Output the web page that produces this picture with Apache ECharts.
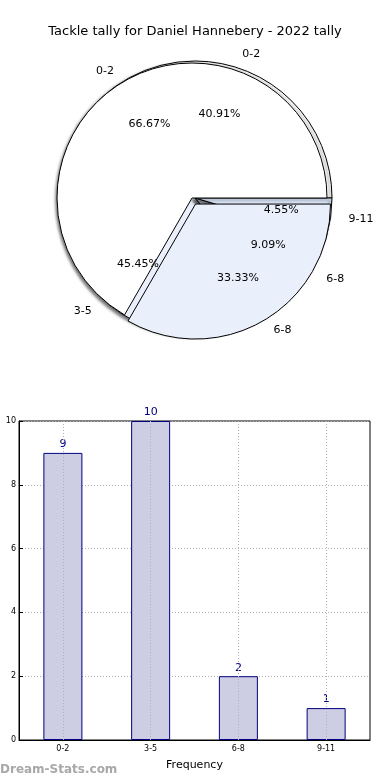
<!DOCTYPE html>
<html><head><meta charset="utf-8">
<script src="https://cdn.jsdelivr.net/npm/echarts@6/dist/echarts.min.js"></script>
<style>html,body{margin:0;padding:0;background:#fff}#c{width:390px;height:780px}</style>
</head><body><div id="c"></div>
<script>
const titleText = 'Tackle tally for Daniel Hannebery - 2022 tally';
const categories = ['0-2', '3-5', '6-8', '9-11'];
const counts = [9, 10, 2, 1];
const pieBNames = ['0-2', '6-8'];
const pieBValues = [66.67, 33.33];
const yTicks = [0, 2, 4, 6, 8, 10];

const FONT = 'DejaVu Sans';
const pieAColors = ['#ffffff', '#eaf0fb', '#eaf0fb', '#dbe7fa'];
const pieBColors = ['#ffffff', '#eaf0fb'];
const total = counts.reduce((a, b) => a + b, 0);
const pctA = counts.map(v => (v / total * 100).toFixed(2) + '%');

const pieAData = categories.map((c, i) => ({ name: c, value: counts[i], itemStyle: { color: pieAColors[i] } }));
const pieBData = pieBNames.map((c, i) => ({ name: c, value: pieBValues[i], selected: i === 1, itemStyle: { color: pieBColors[i] } }));

const centerA = [195, 198];
const centerB = [192, 198];

const chart = echarts.init(document.getElementById('c'), null, { renderer: 'canvas' });
chart.setOption({
  animation: false,
  backgroundColor: '#fff',
  title: {
    text: titleText, left: 'center', top: 20,
    textStyle: { fontFamily: FONT, fontSize: 13, fontWeight: 'normal', color: '#000' }
  },
  graphic: [{
    type: 'text', left: 0, top: 764,
    style: { text: 'Dream-Stats.com', fontFamily: FONT, fontSize: 12, fontWeight: 'bold', fill: '#a8a8a8' }
  }],
  grid: { left: 19, right: 20, top: 421, bottom: 40, show: true, borderColor: '#000', borderWidth: 1, backgroundColor: 'transparent' },
  xAxis: {
    type: 'category', data: categories,
    name: 'Frequency', nameLocation: 'middle', nameGap: 20,
    nameTextStyle: { fontFamily: FONT, fontSize: 11, color: '#000' },
    axisLine: { show: true, lineStyle: { color: '#000' } },
    axisTick: { show: false },
    axisLabel: { fontFamily: FONT, fontSize: 8, color: '#000', margin: 5 },
    splitLine: { show: false }
  },
  yAxis: {
    type: 'value', min: 0, max: 10, interval: 2,
    axisLine: { show: true, lineStyle: { color: '#000' } },
    axisTick: { show: true, inside: true, length: 4, lineStyle: { color: '#000' } },
    axisLabel: { fontFamily: FONT, fontSize: 8, color: '#000', margin: 3, formatter: v => yTicks.includes(v) ? String(v) : '' },
    splitLine: { show: true, lineStyle: { color: '#b0b0b0', type: [1, 2], width: 1 } }
  },
  series: [
    {
      type: 'pie', name: 'A', center: centerA, radius: 137,
      startAngle: 0, clockwise: false, avoidLabelOverlap: false,
      data: pieAData, silent: true,
      itemStyle: { borderColor: '#000', borderWidth: 1, shadowBlur: 3, shadowColor: 'rgba(0,0,0,0.55)', shadowOffsetX: -2, shadowOffsetY: 2 },
      label: { show: true, position: 'outside', formatter: '{b}', fontFamily: FONT, fontSize: 11, color: '#000' },
      labelLine: { show: false, length: 13, length2: 0 },
      emphasis: { disabled: true }
    },
    {
      type: 'pie', name: 'B', center: centerB, radius: 135,
      startAngle: 0, clockwise: false, avoidLabelOverlap: false,
      selectedMode: 'multiple', selectedOffset: 7,
      data: pieBData, silent: true,
      itemStyle: { borderColor: '#000', borderWidth: 1 },
      label: { show: true, position: 'outside', formatter: '{b}', fontFamily: FONT, fontSize: 11, color: '#000' },
      labelLine: { show: false, length: 11, length2: 0 },
      emphasis: { disabled: true }
    },
    {
      type: 'pie', name: 'A-pct', center: centerA, radius: 168,
      startAngle: 0, clockwise: false, avoidLabelOverlap: false,
      data: categories.map((c, i) => ({ name: c, value: counts[i] })), silent: true,
      itemStyle: { color: 'rgba(0,0,0,0)', borderWidth: 0 },
      label: { show: true, position: 'inside', formatter: p => pctA[p.dataIndex], fontFamily: FONT, fontSize: 11, color: '#000' },
      labelLine: { show: false },
      emphasis: { disabled: true }
    },
    {
      type: 'pie', name: 'B-pct', center: centerB, radius: 164,
      startAngle: 0, clockwise: false, avoidLabelOverlap: false,
      selectedMode: 'multiple', selectedOffset: 7,
      data: pieBNames.map((c, i) => ({ name: c, value: pieBValues[i], selected: i === 1 })), silent: true,
      itemStyle: { color: 'rgba(0,0,0,0)', borderWidth: 0 },
      label: { show: true, position: 'inside', formatter: p => p.value.toFixed(2) + '%', fontFamily: FONT, fontSize: 11, color: '#000' },
      labelLine: { show: false },
      emphasis: { disabled: true }
    },
    {
      type: 'bar', data: counts, barWidth: 39,
      itemStyle: { color: '#cdcde3', borderColor: '#000080', borderWidth: 1 },
      label: { show: true, position: 'top', distance: 3, fontFamily: FONT, fontSize: 11, color: '#000080' },
      markLine: {
        silent: true, symbol: 'none', label: { show: false },
        lineStyle: { color: '#b0b0b0', type: [1, 2], width: 1 },
        data: categories.map(c => ({ xAxis: c }))
      },
      z: 3
    }
  ]
});
</script></body></html>
